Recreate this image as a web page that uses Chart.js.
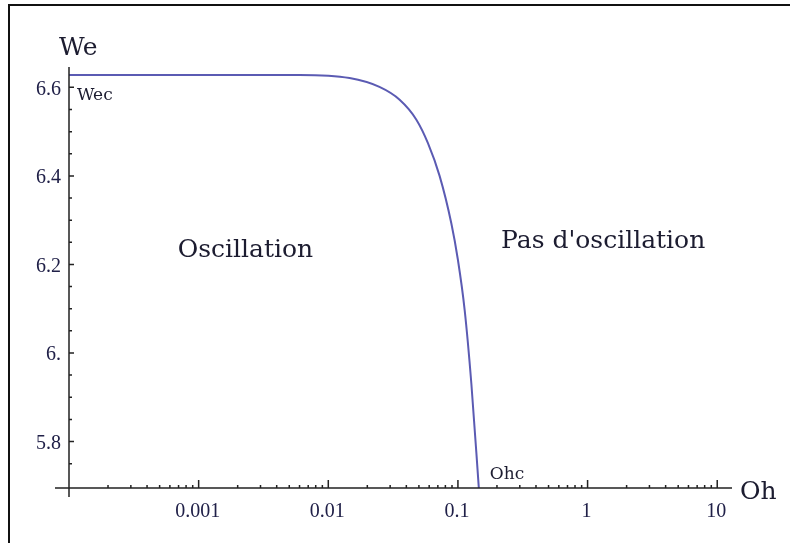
<!DOCTYPE html>
<html>
<head>
<meta charset="utf-8">
<script src="https://cdn.jsdelivr.net/npm/chart.js@4"></script>
<style>
    html, body { margin: 0; padding: 0; background: #fff; }
    #wrap { position: relative; width: 790px; height: 543px; }
    #frame { position: absolute; left: 8px; top: 4px; right: -4px; bottom: -4px; border-top: 2px solid #111; border-left: 2px solid #111; }
</style>
</head>
<body>
<div id="wrap">
    <div id="frame"></div>
    <canvas id="stabilityChart"></canvas>
</div>
<script>
// critical curve We(Oh)
const ohValues = [0.0001, 0.001, 0.006, 0.0146, 0.0248, 0.0355, 0.0478, 0.0587, 0.0722, 0.0889, 0.100, 0.1127, 0.1269, 0.145];
const weValues = [6.628, 6.628, 6.628, 6.621, 6.601, 6.572, 6.527, 6.474, 6.400, 6.293, 6.210, 6.097, 5.931, 5.694];

const xTickValues = [0.001, 0.01, 0.1, 1, 10];
const xTickLabels = ['0.001', '0.01', '0.1', '1', '10'];
const yTickValues = [5.8, 6.0, 6.2, 6.4, 6.6];
const yTickLabels = ['5.8', '6.', '6.2', '6.4', '6.6'];

const weCritical = 6.628;
const ohCritical = 0.145;

const ink = '#1c1c30';
const serif = '"DejaVu Serif", serif';
const timesish = '"Liberation Serif", "Times New Roman", serif';

const axesPlugin = {
    id: 'mathAxes',
    afterDraw(chart) {
        const ctx = chart.ctx;
        const xs = chart.scales.x;
        const ys = chart.scales.y;
        const area = chart.chartArea;
        const x0 = area.left;
        const y0 = area.bottom;

        ctx.save();
        ctx.strokeStyle = '#222';
        ctx.lineWidth = 1.5;

        // axis lines, crossing a little like Mathematica does
        ctx.beginPath();
        ctx.moveTo(x0 - 14, y0);
        ctx.lineTo(area.right, y0);
        ctx.moveTo(x0, area.top);
        ctx.lineTo(x0, y0 + 9);
        ctx.stroke();

        // x ticks
        ctx.beginPath();
        for (let d = 0.0001; d < 100; d *= 10) {
            for (let m = 1; m <= 9; m++) {
                const v = m * d;
                if (v <= xs.min * 1.0001 || v > xs.max) continue;
                const px = xs.getPixelForValue(v);
                const len = m === 1 ? 8 : 3;
                ctx.moveTo(px, y0);
                ctx.lineTo(px, y0 - len);
            }
        }
        // y ticks
        for (let i = 0; i < 20; i++) {
            const v = 5.7 + i * 0.05;
            if (v > ys.max) break;
            const py = ys.getPixelForValue(v);
            if (y0 - py < 5) continue;
            const major = yTickValues.some(t => Math.abs(t - v) < 1e-6);
            ctx.moveTo(x0, py);
            ctx.lineTo(x0 + (major ? 5 : 3), py);
        }
        ctx.stroke();

        // tick labels
        ctx.fillStyle = '#202048';
        ctx.font = '20px ' + timesish;
        ctx.textAlign = 'center';
        ctx.textBaseline = 'middle';
        xTickValues.forEach((v, i) => {
            ctx.fillText(xTickLabels[i], xs.getPixelForValue(v) - 1, y0 + 24);
        });
        ctx.textAlign = 'right';
        yTickValues.forEach((v, i) => {
            ctx.fillText(yTickLabels[i], x0 - 8, ys.getPixelForValue(v) + 2);
        });

        // axis titles and annotations
        ctx.fillStyle = ink;
        ctx.textAlign = 'left';
        ctx.textBaseline = 'alphabetic';
        ctx.font = '25px ' + serif;
        ctx.fillText('We', x0 - 10, area.top - 12);
        ctx.fillText('Oh', area.right + 8, y0 + 11);
        ctx.fillText('Oscillation', xs.getPixelForValue(0.00069), ys.getPixelForValue(6.216));
        ctx.fillText("Pas d'oscillation", xs.getPixelForValue(0.215), ys.getPixelForValue(6.237));

        ctx.font = '17px ' + serif;
        ctx.fillText('Wec', x0 + 8, ys.getPixelForValue(weCritical) + 25);
        ctx.fillText('Ohc', xs.getPixelForValue(ohCritical) + 11, y0 - 9);
        ctx.restore();
    }
};

const canvas = document.getElementById('stabilityChart');
canvas.width = 790;
canvas.height = 543;

new Chart(canvas.getContext('2d'), {
    type: 'line',
    data: {
        datasets: [{
            label: 'We critique',
            data: ohValues.map((oh, i) => ({ x: oh, y: weValues[i] })),
            borderColor: '#5b5bb3',
            borderWidth: 2,
            pointRadius: 0,
            fill: false,
            cubicInterpolationMode: 'monotone'
        }]
    },
    options: {
        responsive: false,
        animation: false,
        layout: { padding: { left: 69, top: 67, right: 58, bottom: 55 } },
        plugins: {
            legend: { display: false },
            tooltip: { enabled: false }
        },
        scales: {
            x: { type: 'logarithmic', min: 0.0001, max: 13, display: false },
            y: { type: 'linear', min: 5.695, max: 6.646, display: false }
        }
    },
    plugins: [axesPlugin]
});
</script>
</body>
</html>
